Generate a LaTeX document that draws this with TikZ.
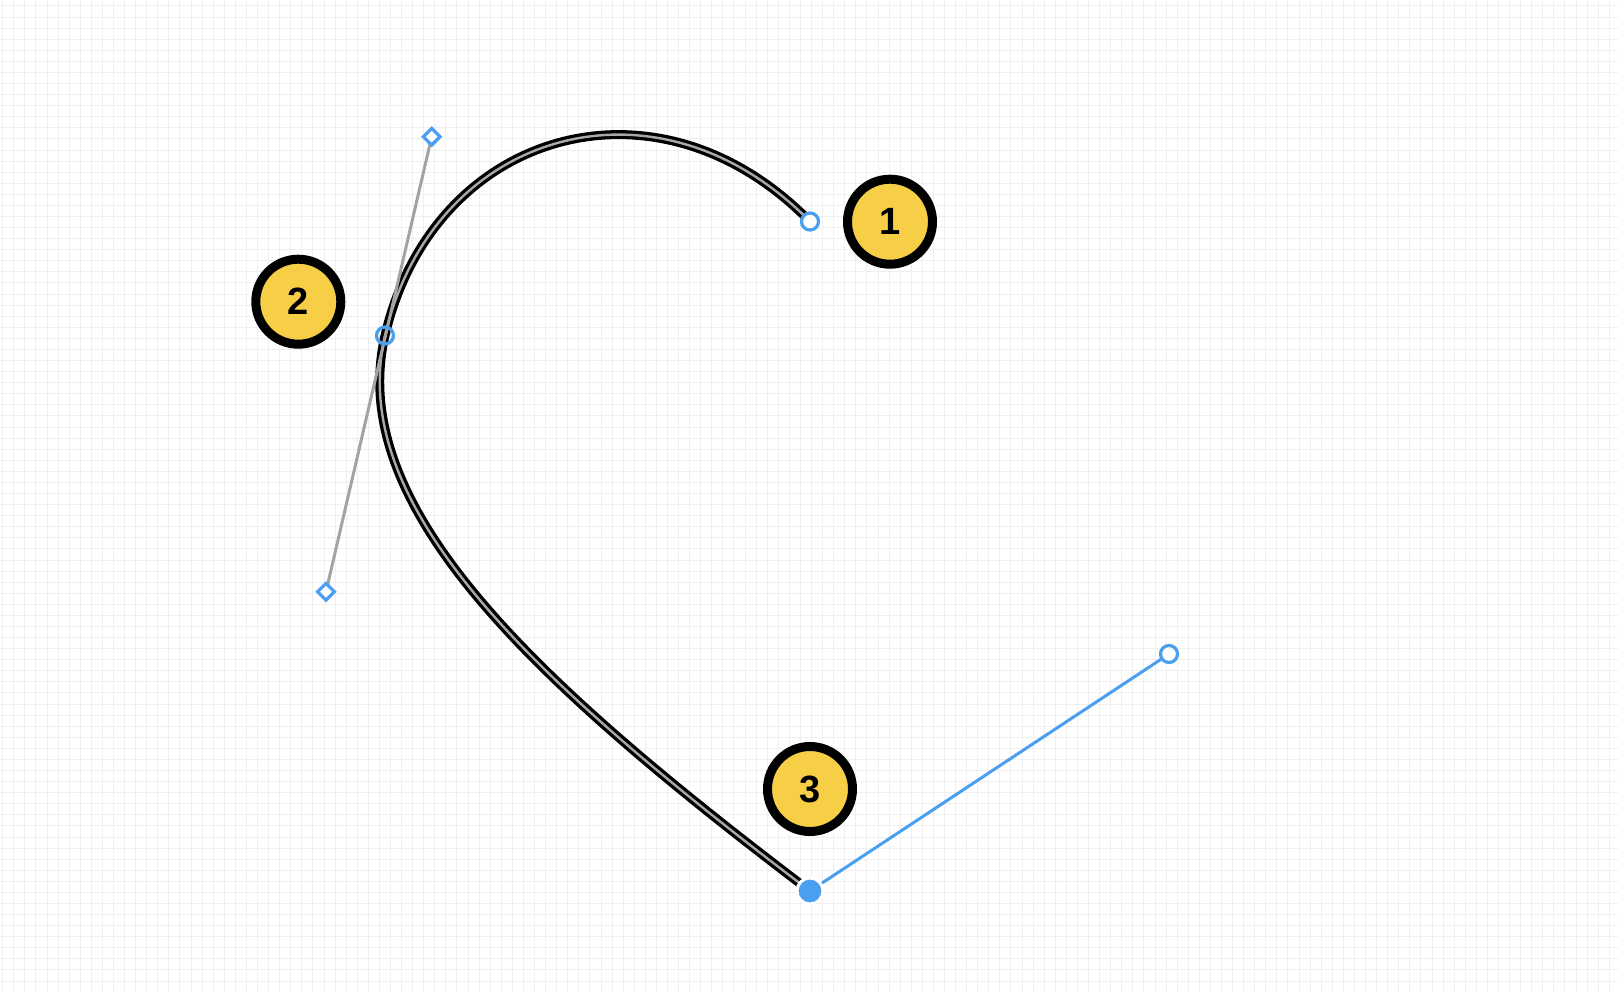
\documentclass[tikz,border=0pt]{standalone}
\usepackage{fontspec}
\setsansfont{Liberation Sans}
\usetikzlibrary{shapes.geometric}
\definecolor{gridln}{HTML}{EFEFEF}
\definecolor{handleblue}{HTML}{4A9FF0}
\definecolor{handlegray}{HTML}{A3A3A3}
\definecolor{badgefill}{HTML}{F6CF46}
\definecolor{pathgray}{HTML}{A8A8A8}

\tikzset{
  anchorpt/.style={circle, draw=handleblue, line width=3.2pt, minimum size=17pt, inner sep=0pt},
  activept/.style={circle, fill=handleblue, draw=white, line width=3pt, minimum size=26pt, inner sep=0pt},
  ctrlpt/.style={diamond, draw=handleblue, fill=white, line width=3.2pt, minimum size=18pt, inner sep=0pt},
  badge/.style={circle, draw=black, fill=badgefill, line width=9pt, minimum size=85pt, inner sep=0pt,
    font=\sffamily\bfseries\fontsize{38}{38}\selectfont},
  curvepath/.style={draw=black, line width=3.3pt, double=pathgray, double distance=2.4pt},
  grayhandle/.style={draw=handlegray, line width=3pt},
  bluehandle/.style={draw=handleblue, line width=3pt},
}

\begin{document}
\begin{tikzpicture}[x=1pt, y=-1pt]
  \useasboundingbox (0,0) rectangle (1618,992);
  \fill[white] (0,0) rectangle (1618,992);

  % background grid
  \foreach \gx in {0,...,146}
    \draw[gridln, line width=1pt] ({2.7+11.08*\gx},0) -- ++(0,992);
  \foreach \gy in {0,...,89}
    \draw[gridln, line width=1pt] (0,{6+11.08*\gy}) -- ++(1618,0);

  % anchor and control positions
  \coordinate (ptStart) at (810,221.5);
  \coordinate (ptMid) at (385,335.5);
  \coordinate (ptEnd) at (810,891);
  \coordinate (ctrlTop) at (431.7,136.7);
  \coordinate (ctrlBot) at (326,591.7);
  \coordinate (ctrlOut) at (1169,654);

  % the path
  \draw[curvepath] (ptStart) .. controls (656,64.4) and (432.9,131) .. (ptMid)
    .. controls (345.6,506) and (531,679.6) .. (ptEnd);

  % handles
  \draw[grayhandle] (ctrlTop) -- (ctrlBot);
  \draw[bluehandle] (ptEnd) -- (ctrlOut);

  % points
  \node[anchorpt, fill=white] (nStart) at (ptStart) {};
  \node[anchorpt] (nMid) at (ptMid) {};
  \node[activept] (nEnd) at (ptEnd) {};
  \node[ctrlpt] (nTop) at (ctrlTop) {};
  \node[ctrlpt] (nBot) at (ctrlBot) {};
  \node[anchorpt, fill=white] (nOut) at (ctrlOut) {};

  % numbered badges
  \node[badge] (badgeA) at (890,221.7) {1};
  \node[badge] (badgeB) at (298.3,301.7) {2};
  \node[badge] (badgeC) at (810,789) {3};
\end{tikzpicture}
\end{document}
